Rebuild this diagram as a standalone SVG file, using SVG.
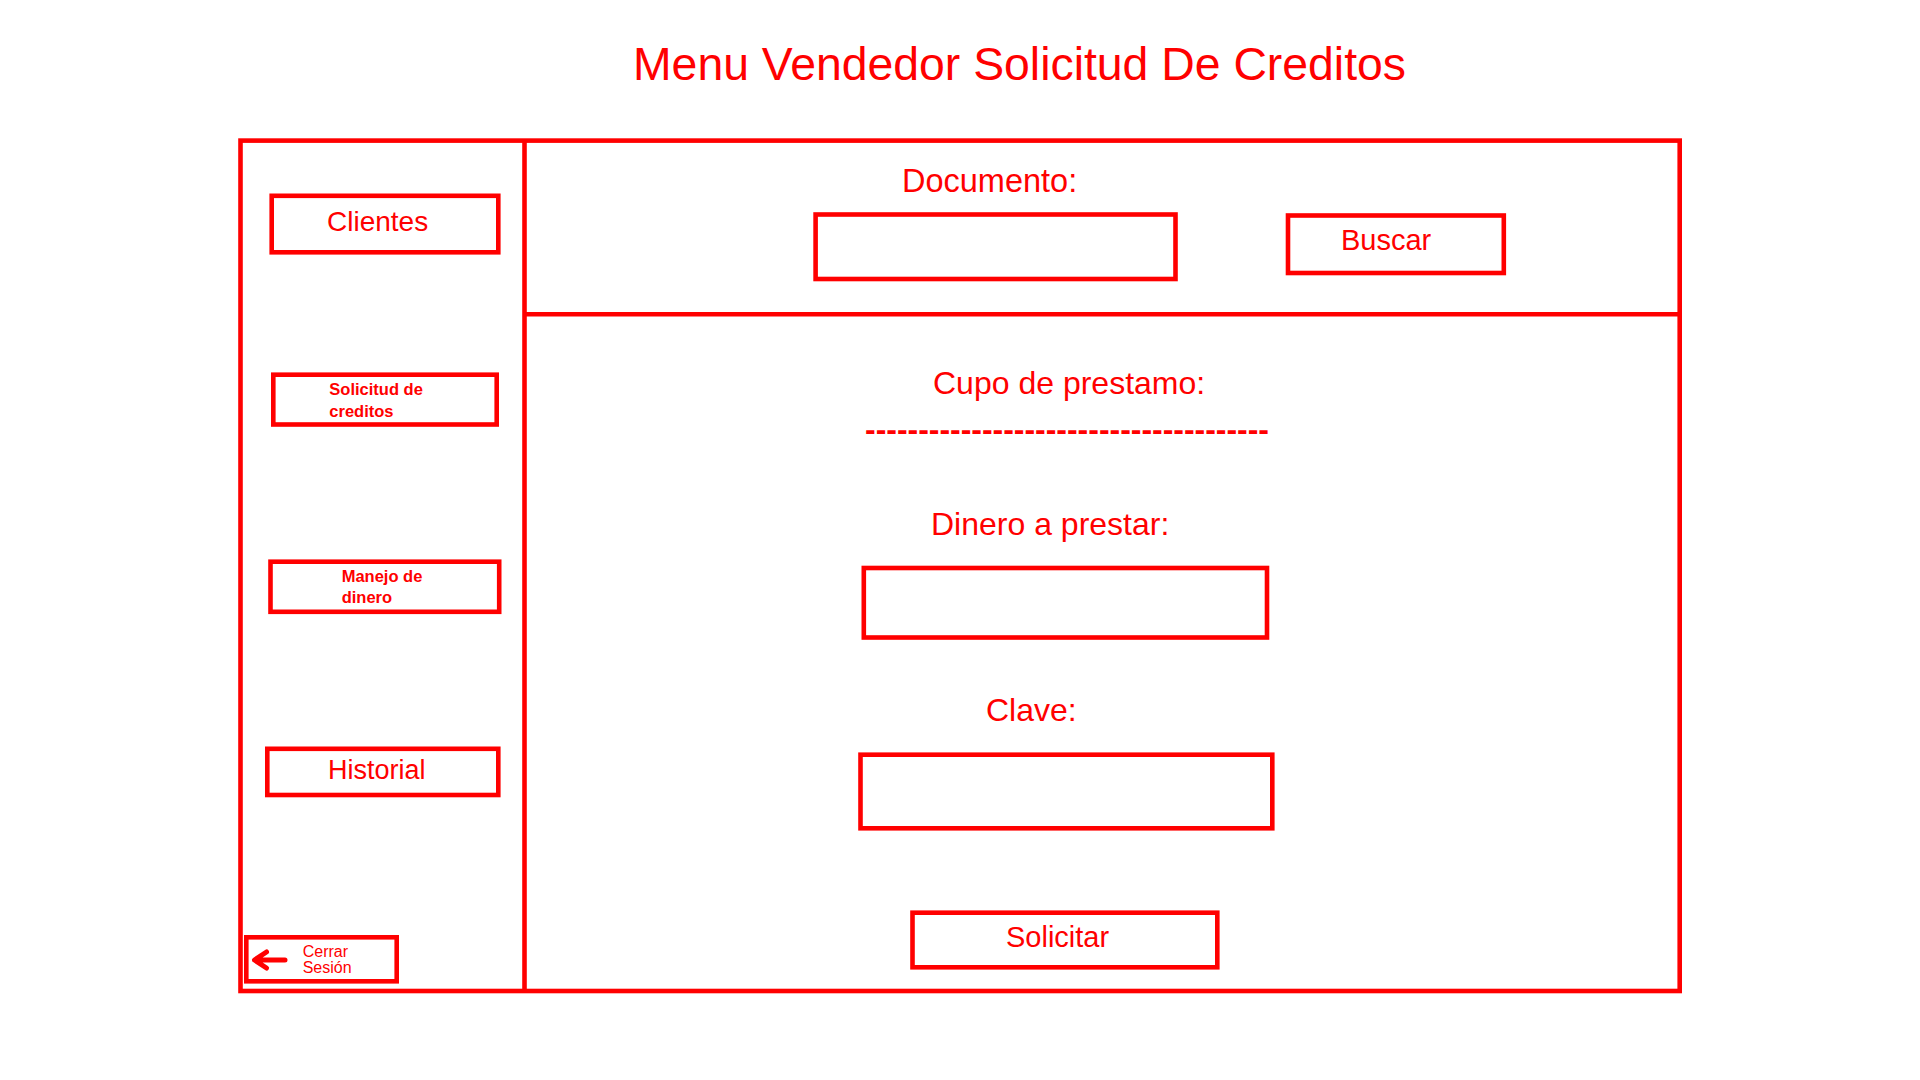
<svg xmlns="http://www.w3.org/2000/svg" width="1920" height="1080" viewBox="0 0 1920 1080">
<style>
.frame{fill:none;stroke:#ff0000;stroke-width:4.6}
.box{fill:#ffffff;stroke:#ff0000;stroke-width:4.6}
.t{fill:#ff0000;font-family:"Liberation Sans",Arial,sans-serif}
.small{font-size:16.5px;font-weight:bold}
</style>
<rect width="1920" height="1080" fill="#ffffff"/>
<text id="title" class="t" x="633" y="80" font-size="47" textLength="773" lengthAdjust="spacingAndGlyphs">Menu Vendedor Solicitud De Creditos</text>
<g id="connectors">
<rect class="frame" x="240.5" y="140.6" width="1439.2" height="850.4"/>
<line class="frame" x1="524.5" y1="140.6" x2="524.5" y2="991"/>
<line class="frame" x1="524.5" y1="314.3" x2="1679.7" y2="314.3"/>
</g>
<g id="clientes">
<rect class="box" x="271.7" y="195.8" width="226.6" height="56.5"/>
<text class="t" x="327" y="231" font-size="28">Clientes</text>
</g>
<g id="solicitud-creditos">
<rect class="box" x="273.3" y="374.7" width="223.4" height="49.8"/>
<text class="t small" x="329.3" y="395">Solicitud de</text>
<text class="t small" x="329.3" y="416.7">creditos</text>
</g>
<g id="manejo-dinero">
<rect class="box" x="270.5" y="561.7" width="228.7" height="50.1"/>
<text class="t small" x="341.7" y="581.7">Manejo de</text>
<text class="t small" x="341.7" y="603">dinero</text>
</g>
<g id="historial">
<rect class="box" x="267.3" y="748.8" width="231" height="46.2"/>
<text class="t" x="328" y="779" font-size="27">Historial</text>
</g>
<g id="cerrar-sesion">
<rect class="box" x="246.3" y="937.3" width="150.4" height="44"/>
<path d="M285 960 H255 M266.5 952 L254.5 960 L266.5 968" fill="none" stroke="#ff0000" stroke-width="5" stroke-linecap="round" stroke-linejoin="round"/>
<text class="t" x="302.7" y="956.7" font-size="16">Cerrar</text>
<text class="t" x="302.7" y="972.7" font-size="16">Sesión</text>
</g>
<g id="documento">
<text class="t" x="902" y="191.7" font-size="32.5">Documento:</text>
<rect class="box" x="815.6" y="214.5" width="359.9" height="64.5"/>
</g>
<g id="buscar">
<rect class="box" x="1288" y="215.5" width="215.8" height="57.5"/>
<text class="t" x="1341" y="250" font-size="29">Buscar</text>
</g>
<g id="cupo">
<text class="t" x="933" y="394.3" font-size="32">Cupo de prestamo:</text>
<text class="t" x="865" y="440" font-size="32" font-weight="bold" textLength="404" lengthAdjust="spacing">--------------------------------------</text>
</g>
<g id="dinero">
<text class="t" x="931" y="535" font-size="32">Dinero a prestar:</text>
<rect class="box" x="863.8" y="568" width="403.2" height="69.5"/>
</g>
<g id="clave">
<text class="t" x="986" y="720.7" font-size="32">Clave:</text>
<rect class="box" x="860.5" y="754.7" width="411.8" height="73.6"/>
</g>
<g id="solicitar">
<rect class="box" x="912.5" y="912.7" width="304.8" height="54.6"/>
<text class="t" x="1006" y="946.7" font-size="29">Solicitar</text>
</g>
</svg>
